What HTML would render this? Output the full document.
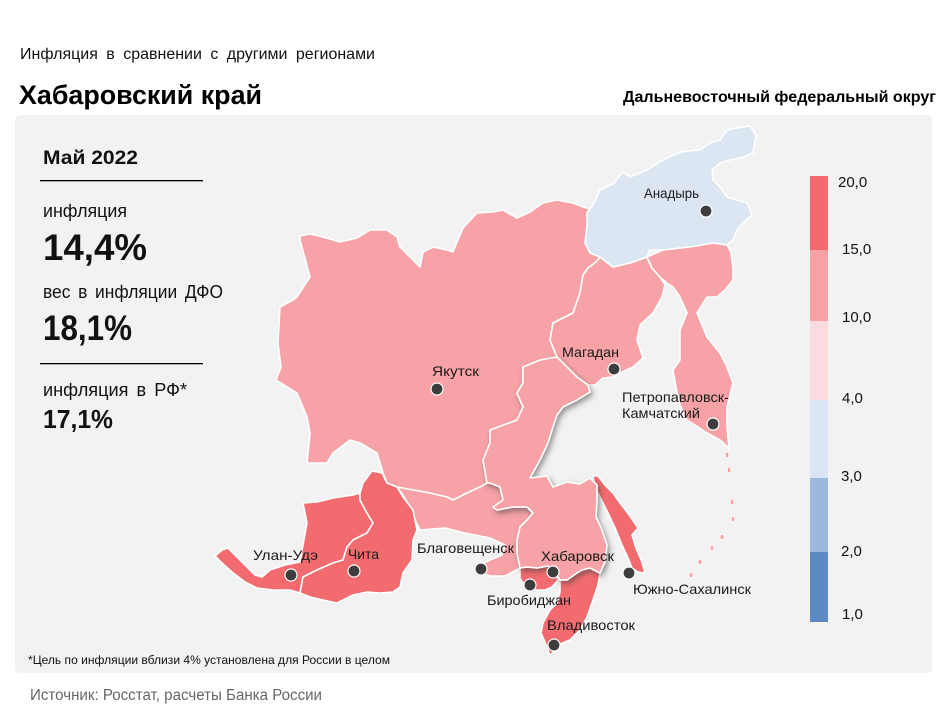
<!DOCTYPE html>
<html><head><meta charset="utf-8"><style>
html,body{margin:0;padding:0;background:#fff;}
svg{display:block;}
text{font-family:"Liberation Sans","DejaVu Sans",sans-serif;}
</style></head><body>
<svg width="950" height="713" viewBox="0 0 950 713" xmlns="http://www.w3.org/2000/svg">
<defs>
<filter id="sh" x="-20%" y="-20%" width="140%" height="140%">
<feDropShadow dx="2" dy="3" stdDeviation="3" flood-color="#404040" flood-opacity="0.55"/>
</filter>
</defs>
<rect width="950" height="713" fill="#fff"/>
<text x="20" y="59" font-size="16" fill="#111" word-spacing="4" textLength="355" lengthAdjust="spacingAndGlyphs">Инфляция  в сравнении  с другими  регионами</text>
<text x="19" y="104" font-size="27" font-weight="bold" fill="#000" textLength="243" lengthAdjust="spacingAndGlyphs">Хабаровский край</text>
<text x="623" y="102" font-size="15.5" font-weight="bold" fill="#000" textLength="313" lengthAdjust="spacingAndGlyphs">Дальневосточный федеральный округ</text>

<rect x="15" y="115" width="917" height="558" rx="5" fill="#f2f2f2"/>

<text x="43" y="164" font-size="19" font-weight="bold" fill="#111" textLength="95" lengthAdjust="spacingAndGlyphs">Май 2022</text>
<rect x="40" y="180" width="163" height="1.3" fill="#000"/>
<text x="43" y="217" font-size="18" fill="#111" textLength="84" lengthAdjust="spacingAndGlyphs">инфляция</text>
<text x="43" y="260" font-size="37" font-weight="bold" fill="#111" textLength="104" lengthAdjust="spacingAndGlyphs">14,4%</text>
<text x="43" y="298" font-size="18" fill="#111" word-spacing="3" textLength="180" lengthAdjust="spacingAndGlyphs">вес в инфляции  ДФО</text>
<text x="43" y="340" font-size="35" font-weight="bold" fill="#111" textLength="89" lengthAdjust="spacingAndGlyphs">18,1%</text>
<rect x="40" y="363" width="163" height="1.3" fill="#000"/>
<text x="43" y="396" font-size="18" fill="#111" word-spacing="3" textLength="144" lengthAdjust="spacingAndGlyphs">инфляция  в РФ*</text>
<text x="43" y="428" font-size="25.5" font-weight="bold" fill="#111" textLength="70" lengthAdjust="spacingAndGlyphs">17,1%</text>

<text x="28" y="664" font-size="12" fill="#111" textLength="362" lengthAdjust="spacingAndGlyphs">*Цель по инфляции вблизи 4% установлена для России в целом</text>
<text x="30" y="700" font-size="15.5" fill="#666" textLength="292" lengthAdjust="spacingAndGlyphs">Источник: Росстат, расчеты  Банка России</text>

<g stroke="#fff" stroke-width="1.6" stroke-linejoin="round">
<!-- Yakutia -->
<polygon fill="#f7a2a6" points="300,236 310,234 323,237 340,242 357,238 370,230 387,230 397,237 400,247 410,257 420,267 423,252 433,247 447,250 453,252 457,242 463,228 477,213 493,212 503,210 517,218 530,212 543,203 557,200 573,203 583,207 593,210 603,220 588,222 587,243 600,257 596,262 588,268 583,275 580,293 573,313 553,323 550,340 557,357 540,360 523,367 523,383 517,393 523,407 517,420 490,430 490,443 483,460 487,483 480,487 467,493 453,500 447,497 430,493 413,490 397,487 387,483 383,473 377,453 360,443 350,440 333,453 327,463 307,463 310,433 307,417 297,393 276,380 281,367 278,343 280,307 293,300 297,297 310,277 300,240"/>
<!-- Magadan -->
<polygon fill="#f7a2a6" points="600,257 613,267 630,263 647,257 652,268 660,277 665,285 662,297 653,313 640,325 637,340 643,358 633,367 622,372 613,377 603,378 595,385 588,385 577,377 567,367 557,357 550,340 553,323 573,313 580,293 583,275 588,268 596,262"/>
<!-- Chukotka -->
<polygon fill="#dce6f3" points="587,213 593,205 600,190 613,184 623,172 630,177 647,170 663,160 680,152 700,150 710,143 720,140 727,130 737,128 750,126 756,135 753,153 743,157 730,160 720,163 712,170 713,180 720,187 727,197 737,200 747,203 752,215 743,223 737,230 733,240 727,245 713,243 703,247 690,247 663,250 650,250 647,257 630,263 613,267 600,257 590,253 585,243 587,225"/>
<!-- Kamchatka -->
<polygon fill="#f7a2a6" points="647,257 663,250 690,247 713,243 727,245 731,252 733,268 733,280 725,290 717,297 707,297 697,313 707,337 720,353 727,367 733,383 727,407 727,427 729,448 720,440 707,433 695,425 687,420 680,405 677,393 673,370 680,360 680,330 687,313 680,297 673,287 667,283 660,277 652,268"/>
<!-- Amur -->
<polygon fill="#f7a2a6" points="397,487 413,490 430,493 447,497 453,500 467,493 480,487 487,483 490,483 500,487 503,500 493,507 497,510 513,507 527,507 533,513 527,520 520,527 517,540 517,553 520,568 505,576 490,576 478,572 480,565 490,560 502,555 505,545 490,538 465,533 445,528 420,530 415,520 410,507 403,495"/>
<!-- Buryatia -->
<polygon fill="#f26b6e" points="303,503 317,502 333,498 353,495 360,493 360,500 367,513 373,523 367,533 353,540 347,547 343,560 333,563 317,570 303,577 300,593 290,590 273,590 257,588 245,582 232,572 222,563 215,556 222,550 228,548 235,555 245,565 255,575 262,577 270,570 285,565 300,562 303,545 307,523"/>
<!-- Zabaykalsky -->
<polygon fill="#f26b6e" points="372,471 382,473 387,483 397,487 403,497 413,510 417,530 413,540 412,560 403,573 400,587 393,592 380,593 367,592 353,595 337,603 323,600 310,597 300,593 303,577 317,570 333,563 343,560 347,547 353,540 367,533 373,523 367,513 360,500 360,493 363,483"/>
<!-- Sakhalin -->
<polygon fill="#f26b6e" points="593,476 598,476 605,485 613,493 620,503 627,512 634,522 638,528 632,535 636,548 642,562 645,573 638,572 632,568 628,558 622,545 616,530 608,513 600,497 595,487"/>
<!-- EAO -->
<polygon fill="#f26b6e" points="520,568 527,567 537,568 548,566 555,572 558,580 552,587 545,590 535,590 525,586 520,578"/>
<!-- Primorye -->
<polygon fill="#f26b6e" points="560,580 567,580 577,573 582,570 590,568 600,573 598,585 593,600 587,617 580,630 570,640 560,644 553,652 550,656 547,647 541,633 543,623 550,610 557,603 560,592"/>
<!-- Khabarovsk (highlighted) -->
<polygon fill="#f7a2a6" filter="url(#sh)" points="523,367 540,360 557,357 567,367 577,377 588,385 590,392 577,400 563,407 557,415 553,427 548,443 540,460 530,478 547,476 553,487 567,482 580,484 590,478 597,485 597,500 596,517 602,530 607,545 605,562 600,573 590,568 582,570 577,573 567,580 560,580 555,572 548,566 537,568 527,567 520,568 517,553 517,540 520,527 527,520 533,513 527,507 513,507 497,510 493,507 503,500 500,487 490,483 487,483 483,460 490,443 490,430 517,420 523,407 517,393 523,383"/>
</g>
<!-- Kurils -->
<g fill="#f7a2a6" stroke="#fff" stroke-width="0.8">
<ellipse cx="727" cy="455" rx="2" ry="3"/>
<ellipse cx="729" cy="470" rx="1.8" ry="3"/>
<ellipse cx="732" cy="502" rx="1.8" ry="3"/>
<ellipse cx="733" cy="519" rx="1.8" ry="2.5"/>
<ellipse cx="722" cy="537" rx="2" ry="2.5"/>
<ellipse cx="712" cy="548" rx="2" ry="2.5"/>
<ellipse cx="700" cy="562" rx="2" ry="2.5"/>
<ellipse cx="691" cy="575" rx="2" ry="2.5"/>
</g>

<!-- city dots -->
<g fill="#3d3d3d" stroke="#fff" stroke-width="1.2">
<circle cx="706" cy="211" r="6"/>
<circle cx="437" cy="389" r="6"/>
<circle cx="614" cy="369" r="6"/>
<circle cx="713" cy="424" r="6"/>
<circle cx="629" cy="573" r="6"/>
<circle cx="553" cy="572" r="6"/>
<circle cx="530" cy="585" r="6"/>
<circle cx="554" cy="645" r="6"/>
<circle cx="481" cy="569" r="6"/>
<circle cx="354" cy="571" r="6"/>
<circle cx="291" cy="575" r="6"/>
</g>

<!-- labels -->
<g font-size="14" fill="#1a1a1a">
<text x="644" y="198" textLength="55" lengthAdjust="spacingAndGlyphs">Анадырь</text>
<text x="432" y="376" textLength="47" lengthAdjust="spacingAndGlyphs">Якутск</text>
<text x="562" y="357" textLength="57" lengthAdjust="spacingAndGlyphs">Магадан</text>
<text x="622" y="402" textLength="107" lengthAdjust="spacingAndGlyphs">Петропавловск-</text>
<text x="622" y="418" textLength="78" lengthAdjust="spacingAndGlyphs">Камчатский</text>
<text x="253" y="560" textLength="65" lengthAdjust="spacingAndGlyphs">Улан-Удэ</text>
<text x="348" y="559" textLength="31" lengthAdjust="spacingAndGlyphs">Чита</text>
<text x="417" y="553" textLength="97" lengthAdjust="spacingAndGlyphs">Благовещенск</text>
<text x="541" y="561" textLength="73" lengthAdjust="spacingAndGlyphs">Хабаровск</text>
<text x="487" y="605" textLength="84" lengthAdjust="spacingAndGlyphs">Биробиджан</text>
<text x="547" y="630" textLength="88" lengthAdjust="spacingAndGlyphs">Владивосток</text>
<text x="633" y="594" textLength="118" lengthAdjust="spacingAndGlyphs">Южно-Сахалинск</text>
</g>

<!-- legend -->
<rect x="810" y="176" width="18" height="74" fill="#f36b6f"/>
<rect x="810" y="250" width="18" height="71" fill="#f8a1a5"/>
<rect x="810" y="321" width="18" height="79" fill="#fadce0"/>
<rect x="810" y="400" width="18" height="78" fill="#dbe5f3"/>
<rect x="810" y="478" width="18" height="74" fill="#9bb8dd"/>
<rect x="810" y="552" width="18" height="70" fill="#5c8ac5"/>
<g font-size="15" fill="#111">
<text x="838" y="187">20,0</text>
<text x="842" y="254">15,0</text>
<text x="842" y="322">10,0</text>
<text x="842" y="403">4,0</text>
<text x="841" y="481">3,0</text>
<text x="841" y="556">2,0</text>
<text x="842" y="619">1,0</text>
</g>
</svg>
</body></html>
